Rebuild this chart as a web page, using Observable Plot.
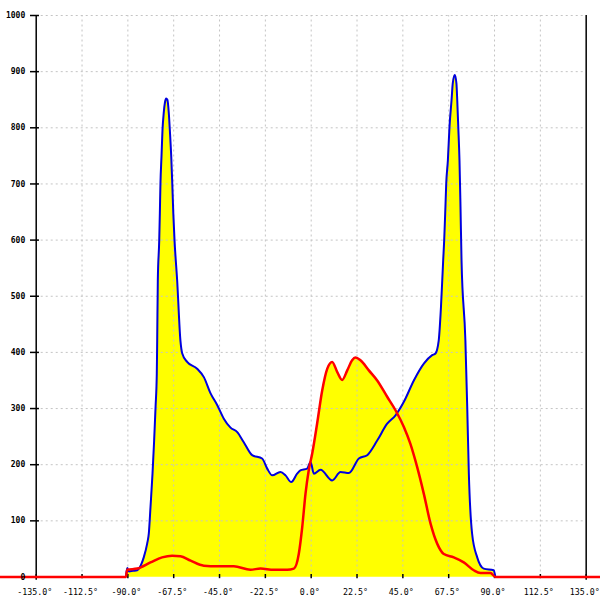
<!DOCTYPE html>
<html>
<head>
<meta charset="utf-8">
<script src="https://cdn.jsdelivr.net/npm/d3@7"></script>
<script src="https://cdn.jsdelivr.net/npm/@observablehq/plot@0.6"></script>
<style>
  html, body { margin: 0; padding: 0; background: #fff; }
  #chart svg { display: block; }
</style>
</head>
<body>
<div id="chart"></div>
<script>
// Blue series: angle (deg), value
const blueAngle = [-90.8, -90.3, -89.5, -87.5, -85.4, -83.5, -82.2, -80.5, -79.7, -78.9, -77.9, -77.1, -76.4, -75.8, -75.6, -75.3, -74.6, -74.3, -74.0, -73.5, -73.0, -72.4, -71.8, -71.2, -70.6, -69.9, -69.4, -68.7, -68.2, -67.7, -67.1, -65.8, -64.2, -63.3, -60.9, -56.0, -52.7, -49.4, -46.1, -42.9, -39.6, -36.3, -33.1, -29.0, -24.1, -21.6, -19.1, -15.1, -12.6, -9.8, -6.9, -5.3, -2.0, -0.3, 1.3, 4.6, 10.3, 14.4, 18.5, 23.4, 27.5, 32.4, 37.3, 41.4, 45.5, 50.4, 55.3, 59.4, 61.0, 62.6, 63.7, 64.8, 65.3, 65.9, 66.3, 67.1, 67.9, 68.9, 69.5, 70.5, 71.3, 71.7, 72.2, 72.8, 73.3, 73.8, 75.7, 76.6, 77.4, 79.0, 81.5, 84.7, 89.6, 90.1, 90.4];
const blueValue = [5, 16, 10, 11, 12, 22, 35, 60, 78, 124, 184, 243, 303, 362, 421, 528, 600, 648, 701, 748, 796, 826, 845, 852, 850, 826, 796, 748, 701, 648, 600, 528, 421, 398, 383, 371, 356, 327, 306, 282, 266, 258, 240, 217, 211, 193, 181, 187, 181, 169, 184, 190, 193, 205, 184, 191, 172, 187, 185, 211, 217, 243, 273, 288, 312, 350, 380, 395, 398, 421, 480, 564, 600, 659, 701, 742, 802, 849, 879, 894, 879, 849, 802, 742, 659, 564, 421, 303, 184, 77, 35, 15, 12, 6, 0];

// Red series: angle (deg), value
const redAngle = [-155, -91.0, -90.3, -85.4, -78.9, -73.2, -68.3, -64.2, -59.2, -52.7, -46.1, -38.0, -29.8, -24.9, -18.4, -11.8, -8.5, -6.1, -4.4, -2.8, -1.2, 0.5, 2.9, 5.4, 7.9, 10.3, 12.8, 15.2, 17.7, 20.1, 21.7, 24.2, 28.3, 32.4, 37.3, 41.4, 45.5, 48.7, 52.0, 55.3, 58.6, 61.9, 65.1, 70.0, 74.9, 79.8, 83.1, 88.0, 90.5, 145];
const redValue = [0, 0, 13, 15, 26, 35, 38, 37, 29, 20, 19, 19, 13, 15, 13, 13, 15, 41, 89, 148, 190, 220, 273, 332, 371, 383, 365, 351, 368, 386, 391, 386, 368, 350, 321, 297, 267, 237, 196, 148, 95, 59, 41, 35, 26, 12, 7, 7, 0, 0];

// Axis ticks
const xTicks = [-135, -112.5, -90, -67.5, -45, -22.5, 0, 22.5, 45, 67.5, 90, 112.5, 135];
const xTickLabels = ["-135.0°", "-112.5°", "-90.0°", "-67.5°", "-45.0°", "-22.5°", "0.0°", "22.5°", "45.0°", "67.5°", "90.0°", "112.5°", "135.0°"];
const yTicks = [0, 100, 200, 300, 400, 500, 600, 700, 800, 900, 1000];

const blue = blueAngle.map((a, i) => ({a, v: blueValue[i]}));
const red = redAngle.map((a, i) => ({a, v: redValue[i]}));
const xLab = xTicks.map((t, i) => ({t, label: xTickLabels[i]}));
const gridX = xTicks.filter(t => t !== -135 && t !== 135);
const gridY = yTicks.filter(t => t !== 0);

const chart = Plot.plot({
  width: 600,
  height: 600,
  marginLeft: 0,
  marginRight: 0,
  marginTop: 15,
  marginBottom: 23.5,
  x: {domain: [-152.53, 142.03], axis: null},
  y: {domain: [0, 1000], axis: null},
  style: {background: "#fff"},
  marks: [
    Plot.areaY(blue, {x: "a", y: "v", fill: "#ffff00", curve: "monotone-x"}),
    Plot.areaY(red, {x: "a", y: "v", fill: "#ffff00", curve: "monotone-x"}),
    Plot.ruleX(gridX, {x: d => d, y1: 0, y2: 1000, stroke: "#c4c4c4", strokeDasharray: "2,3", strokeWidth: 1}),
    Plot.ruleY(gridY, {y: d => d, x1: -135, x2: 135, stroke: "#c4c4c4", strokeDasharray: "2,3", strokeWidth: 1}),
    Plot.ruleX([-135, 135], {x: d => d, y1: -6, y2: 1000, stroke: "#000", strokeWidth: 1.5}),
    Plot.ruleX(xTicks, {x: d => d, y1: -3, y2: 4.5, stroke: "#000", strokeWidth: 1.5}),
    Plot.ruleY(yTicks, {y: d => d, x1: -137.8, x2: -133.4, stroke: "#000", strokeWidth: 1.5}),
    Plot.line(blue, {x: "a", y: "v", stroke: "#0000e0", strokeWidth: 2, curve: "monotone-x"}),
    Plot.line(red, {x: "a", y: "v", stroke: "#ff0000", strokeWidth: 2.5, curve: "monotone-x"}),
    Plot.text(xLab, {x: "t", y: 0, text: "label", dy: 15, dx: -1.5, fontSize: 8.3, fontFamily: "DejaVu Sans Mono", fill: "#000"}),
    Plot.text(yTicks, {x: -135, y: d => d, text: d => String(d), textAnchor: "end", dx: -11, fontSize: 8, fontWeight: "bold", fontFamily: "DejaVu Sans Mono", fill: "#000"})
  ]
});
document.getElementById("chart").appendChild(chart);
</script>
</body>
</html>
